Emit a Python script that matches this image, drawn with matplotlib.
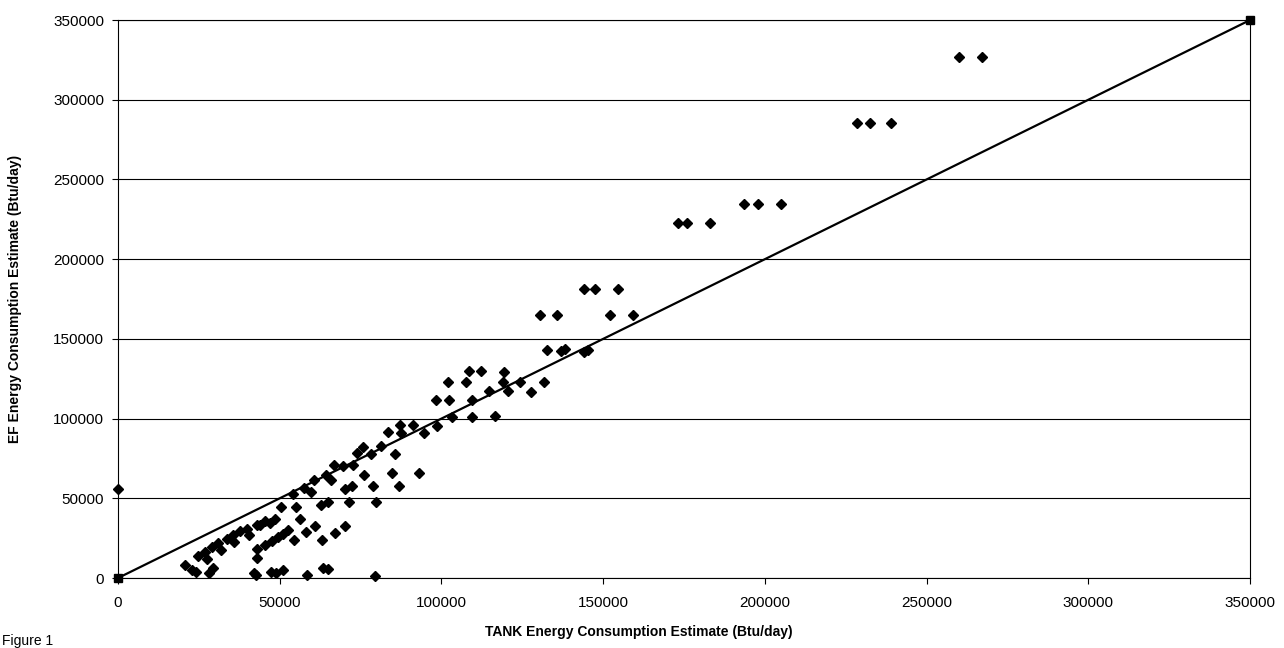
import matplotlib
matplotlib.use("Agg")
import matplotlib.pyplot as plt
import numpy as np

plt.rcParams['font.family'] = ['Liberation Sans', 'DejaVu Sans']

# TANK estimate (x) vs EF estimate (y), in Btu/day
tank = [0, 260000, 267000,
        228500, 232500, 239000,
        193500, 198000, 205000,
        173000, 176000, 183000,
        144000, 147500, 154500,
        130500, 135700, 152000, 159200,
        132500, 137000, 138200, 144000, 145200,
        108500, 112200, 119500,
        102000, 107500, 118900, 124300, 131800,
        114800, 120700, 127700,
        98300, 102300, 109600,
        103200, 109500, 116600,
        98500, 94700, 87300, 91300, 87600, 83400,
        81400, 75600, 74000, 78200, 85800,
        66900, 69500, 72800,
        76200, 84800, 93000,
        60500, 64400, 66000,
        57600, 59700, 54100,
        70200, 72400, 78800, 87000,
        50400, 55100, 62700, 65000, 71400, 79700,
        56400, 61000, 58100, 54300, 63200, 67200, 70100,
        20700, 22800, 24800, 26900, 29000, 31000, 33600, 35600, 37700,
        39800, 42900, 45500, 48500,
        27500, 32000, 36000, 40500, 44000, 47000,
        45500, 47500, 49500, 51000, 52700,
        43000, 43000,
        42000, 42800, 47300, 49000, 51000, 58300, 63300, 65000, 79500,
        24000, 28000, 29500]
ef = [56000, 327000, 327000,
      285500, 285500, 285500,
      234500, 234500, 234500,
      222500, 222500, 222500,
      181000, 181000, 181000,
      165000, 165000, 165000, 165000,
      143300, 142500, 143500, 141500, 143000,
      129700, 129700, 129500,
      122800, 122800, 123000, 122700, 122700,
      117300, 117300, 117000,
      111900, 111900, 111900,
      101000, 101000, 101500,
      95600, 91000, 96300, 96300, 91000, 91500,
      82600, 82500, 78300, 78000, 77700,
      71000, 70500, 71000,
      64900, 66000, 66000,
      61300, 64800, 61500,
      56600, 54000, 53000,
      55800, 57900, 57900, 57800,
      44800, 44800, 45500, 47500, 47500, 47600,
      36800, 32800, 28800, 24000, 24000, 28500, 32900,
      8200, 5100, 14000, 16500, 19500, 22000, 24700, 26700, 29200,
      31000, 33000, 35500, 37000,
      12000, 17500, 22500, 27000, 33500, 34500,
      20500, 23000, 25500, 27500, 30000,
      18000, 12500,
      3000, 2000, 4000, 3000, 5200, 2000, 6500, 5500, 1000,
      3500, 3000, 6500]

# 1:1 reference line
ref_x = [0, 350000]
ref_y = [0, 350000]

ticks = np.arange(0, 350001, 50000)

fig = plt.figure(figsize=(12.84, 6.48), dpi=100)
ax = fig.add_axes([0.0919, 0.108, 0.8816, 0.861])

ax.plot(ref_x, ref_y, color='black', lw=1.6, marker='s', ms=6, zorder=3, clip_on=False)
ax.plot(tank, ef, linestyle='none', marker='D', ms=5.6, color='black', zorder=4, clip_on=False)

ax.set_xlim(0, 350000)
ax.set_ylim(0, 350000)
ax.set_xticks(ticks)
ax.set_yticks(ticks)
ax.set_xticklabels([str(t) for t in ticks])
ax.set_yticklabels([str(t) for t in ticks])
ax.tick_params(axis='both', labelsize=11, color='black', length=4, width=0.8)
ax.tick_params(axis='x', pad=9)
ax.tick_params(axis='y', pad=6)
ax.yaxis.grid(True, color='black', lw=0.8)
ax.set_axisbelow(True)
for s in ax.spines.values():
    s.set_color('black')
    s.set_linewidth(0.8)

fig.text(639 / 1284, 1 - 632 / 648, "TANK Energy Consumption Estimate (Btu/day)",
         ha='center', va='center', fontsize=10, fontweight='bold')
fig.text(15 / 1284, 1 - 299 / 648, "EF Energy Consumption Estimate (Btu/day)",
         ha='center', va='center', rotation=90, fontsize=10, fontweight='bold')
fig.text(2 / 1284, 1 - 641 / 648, "Figure 1", ha='left', va='center', fontsize=10)

fig.savefig("out.png", dpi=100)
